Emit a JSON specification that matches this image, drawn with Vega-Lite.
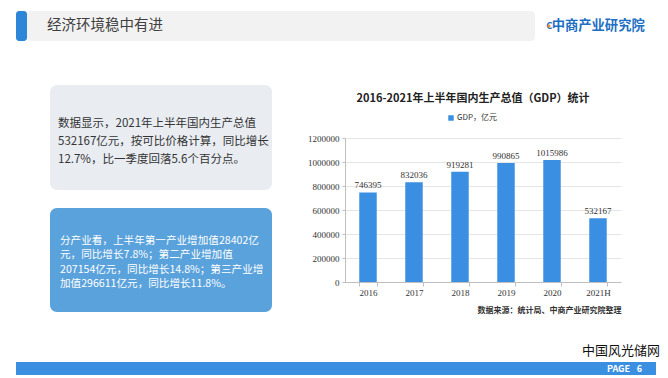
{
  "$schema": "https://vega.github.io/schema/vega-lite/v6.json",
  "padding": {"left": 16, "top": 11, "right": 8, "bottom": 4},
  "background": "#ffffff",
  "config": {"view": {"stroke": null}, "font": "Noto Sans CJK SC"},
  "spacing": 44,
  "resolve": {"scale": {"color": "independent", "x": "independent", "y": "independent"}, "legend": {"color": "independent"}},
  "vconcat": [
    {
      "bounds": "flush",
      "spacing": 0,
      "resolve": {"scale": {"x": "independent", "y": "independent"}},
      "hconcat": [
        {"width": 11, "height": 30, "view": {"fill": "#2e86d8", "cornerRadius": 3}, "data": {"values": []}, "mark": "point", "encoding": {}},
        {
          "width": 508, "height": 30,
          "view": {"fill": "#f2f2f2", "cornerRadius": 4},
          "data": {"values": [{"k": "title", "text": "经济环境稳中有进"}]},
          "mark": {"type": "text", "align": "left", "baseline": "middle", "fontSize": 14.5, "color": "#404040"},
          "encoding": {
            "x": {"field": "k", "type": "nominal", "scale": {"type": "point", "range": [20, 20]}, "axis": null},
            "text": {"field": "text"}
          }
        },
        {"width": 10, "height": 1, "data": {"values": []}, "mark": "point", "encoding": {}},
        {
          "width": 100, "height": 30,
          "layer": [
            {
              "data": {"values": [{"part": "icon", "text": "C"}]},
              "mark": {"type": "text", "align": "left", "baseline": "middle", "fontSize": 9.5, "fontWeight": "bold", "color": "#1c6fc4"},
              "encoding": {
                "x": {"field": "part", "type": "nominal", "scale": {"type": "point", "domain": ["icon", "dot", "name"], "range": [0, 8]}, "axis": null},
                "text": {"field": "text"}
              }
            },
            {
              "data": {"values": [{"part": "dot"}]},
              "mark": {"type": "circle", "size": 9, "opacity": 1, "color": "#f08a24"},
              "encoding": {
                "x": {"field": "part", "type": "nominal", "axis": null}
              }
            },
            {
              "data": {"values": [{"part": "name", "text": "中商产业研究院"}]},
              "mark": {"type": "text", "align": "left", "baseline": "middle", "fontSize": 13.3, "fontWeight": "bold", "color": "#1c6fc4"},
              "encoding": {
                "x": {"field": "part", "type": "nominal", "axis": null},
                "text": {"field": "text"}
              }
            }
          ]
        }
      ]
    },
    {
      "spacing": 29,
      "resolve": {"scale": {"color": "independent", "x": "independent", "y": "independent"}, "legend": {"color": "independent"}},
      "vconcat": [
        {
          "spacing": 0,
          "resolve": {"scale": {"color": "independent", "x": "independent", "y": "independent"}, "legend": {"color": "independent"}},
          "hconcat": [
            {"width": 34, "height": 1, "data": {"values": []}, "mark": "point", "encoding": {}},
            {
              "bounds": "flush",
              "spacing": 18,
              "resolve": {"scale": {"x": "independent", "y": "independent"}},
              "vconcat": [
                {
                  "width": 222, "height": 105,
                  "view": {"fill": "#e9edf2", "cornerRadius": 7},
                  "data": {"values": [
                    {"box": "a", "line": 1, "text": "数据显示，2021年上半年国内生产总值"},
                    {"box": "a", "line": 2, "text": "532167亿元，按可比价格计算，同比增长"},
                    {"box": "a", "line": 3, "text": "12.7%，比一季度回落5.6个百分点。"}
                  ]},
                  "mark": {"type": "text", "align": "left", "baseline": "middle", "fontSize": 11.5, "color": "#333333"},
                  "encoding": {
                    "x": {"field": "box", "type": "nominal", "scale": {"type": "point", "range": [8, 8]}, "axis": null},
                    "y": {"field": "line", "type": "ordinal", "scale": {"type": "point", "range": [30, 84]}, "axis": null},
                    "text": {"field": "text"}
                  }
                },
                {
                  "width": 222, "height": 104,
                  "view": {"fill": "#5aa2db", "cornerRadius": 7},
                  "data": {"values": [
                    {"box": "b", "line": 1, "text": "分产业看，上半年第一产业增加值28402亿"},
                    {"box": "b", "line": 2, "text": "元，同比增长7.8%；第二产业增加值"},
                    {"box": "b", "line": 3, "text": "207154亿元，同比增长14.8%；第三产业增"},
                    {"box": "b", "line": 4, "text": "加值296611亿元，同比增长11.8%。"}
                  ]},
                  "mark": {"type": "text", "align": "left", "baseline": "middle", "fontSize": 10.6, "color": "#ffffff"},
                  "encoding": {
                    "x": {"field": "box", "type": "nominal", "scale": {"type": "point", "range": [10, 10]}, "axis": null},
                    "y": {"field": "line", "type": "ordinal", "scale": {"type": "point", "range": [26, 83]}, "axis": null},
                    "text": {"field": "text"}
                  }
                }
              ]
            },
            {"width": 35, "height": 1, "data": {"values": []}, "mark": "point", "encoding": {}},
            {
              "bounds": "flush",
              "spacing": 0,
              "resolve": {"scale": {"color": "independent", "x": "independent", "y": "independent"}, "legend": {"color": "independent"}},
              "vconcat": [
                {"width": 1, "height": 53, "data": {"values": []}, "mark": "point", "encoding": {}},
                {
                  "width": 276, "height": 144,
                  "title": {"text": "2016-2021年上半年国内生产总值（GDP）统计", "fontSize": 11, "fontWeight": "bold", "color": "#222222", "anchor": "middle", "dx": -10, "offset": 10},
                  "data": {"values": [
                    {"year": "2016", "gdp": 746395, "series": "GDP，亿元"},
                    {"year": "2017", "gdp": 832036, "series": "GDP，亿元"},
                    {"year": "2018", "gdp": 919281, "series": "GDP，亿元"},
                    {"year": "2019", "gdp": 990865, "series": "GDP，亿元"},
                    {"year": "2020", "gdp": 1015986, "series": "GDP，亿元"},
                    {"year": "2021H", "gdp": 532167, "series": "GDP，亿元"}
                  ]},
                  "encoding": {
                    "x": {
                      "field": "year", "type": "ordinal", "sort": null,
                      "scale": {"paddingInner": 0.62, "paddingOuter": 0.31},
                      "axis": {
                        "title": "数据来源：统计局、中商产业研究院整理", "titleAnchor": "end", "titleFontSize": 8, "titleFontWeight": "bold", "titleColor": "#333333", "titlePadding": 9,
                        "labelAngle": 0, "labelFont": "Liberation Serif", "labelFontSize": 9, "labelColor": "#333333", "labelPadding": 2,
                        "domainColor": "#bfbfbf", "tickColor": "#bfbfbf", "tickSize": 4, "tickBand": "extent"
                      }
                    },
                    "y": {
                      "field": "gdp", "type": "quantitative",
                      "scale": {"domain": [0, 1200000]},
                      "axis": {
                        "title": null, "format": "d", "values": [0, 200000, 400000, 600000, 800000, 1000000, 1200000],
                        "labelFont": "Liberation Serif", "labelFontSize": 9, "labelColor": "#333333", "labelPadding": 3,
                        "gridColor": "#e6e6e6", "domainColor": "#bfbfbf", "tickColor": "#bfbfbf", "tickSize": 3
                      }
                    }
                  },
                  "layer": [
                    {
                      "mark": {"type": "bar"},
                      "encoding": {
                        "color": {
                          "field": "series", "type": "nominal",
                          "scale": {"range": ["#3b8fe3"]},
                          "legend": {"orient": "none", "legendX": 102, "legendY": -24, "title": null, "symbolType": "square", "symbolSize": 30, "symbolStrokeWidth": 0, "labelFontSize": 8, "labelColor": "#333333", "labelOffset": 2}
                        }
                      }
                    },
                    {
                      "mark": {"type": "text", "baseline": "alphabetic", "dy": -4, "font": "Liberation Serif", "fontSize": 9, "color": "#333333"},
                      "encoding": {"text": {"field": "gdp", "type": "quantitative", "format": "d"}}
                    }
                  ]
                }
              ]
            }
          ]
        },
        {
          "spacing": 4,
          "resolve": {"scale": {"x": "independent", "y": "independent"}},
          "vconcat": [
            {
              "bounds": "flush",
              "spacing": 0,
              "hconcat": [
                {"width": 568, "height": 1, "data": {"values": []}, "mark": "point", "encoding": {}},
                {
                  "width": 74, "height": 15,
                  "data": {"values": [{"text": "中国风光储网"}]},
                  "mark": {"type": "text", "align": "center", "baseline": "middle", "fontSize": 13, "color": "#111111"},
                  "encoding": {"text": {"field": "text"}}
                }
              ]
            },
            {
              "width": 640, "height": 13,
              "view": {"fill": "#3a8fe0"},
              "data": {"values": [{"part": "PAGE", "text": "PAGE"}, {"part": "6", "text": "6"}]},
              "mark": {"type": "text", "align": "center", "baseline": "middle", "fontSize": 9, "fontWeight": "bold", "color": "#ffffff"},
              "encoding": {
                "x": {"field": "part", "type": "nominal", "scale": {"type": "point", "domain": ["PAGE", "6"], "range": [592, 634]}, "axis": null},
                "text": {"field": "text"}
              }
            }
          ]
        }
      ]
    }
  ]
}
